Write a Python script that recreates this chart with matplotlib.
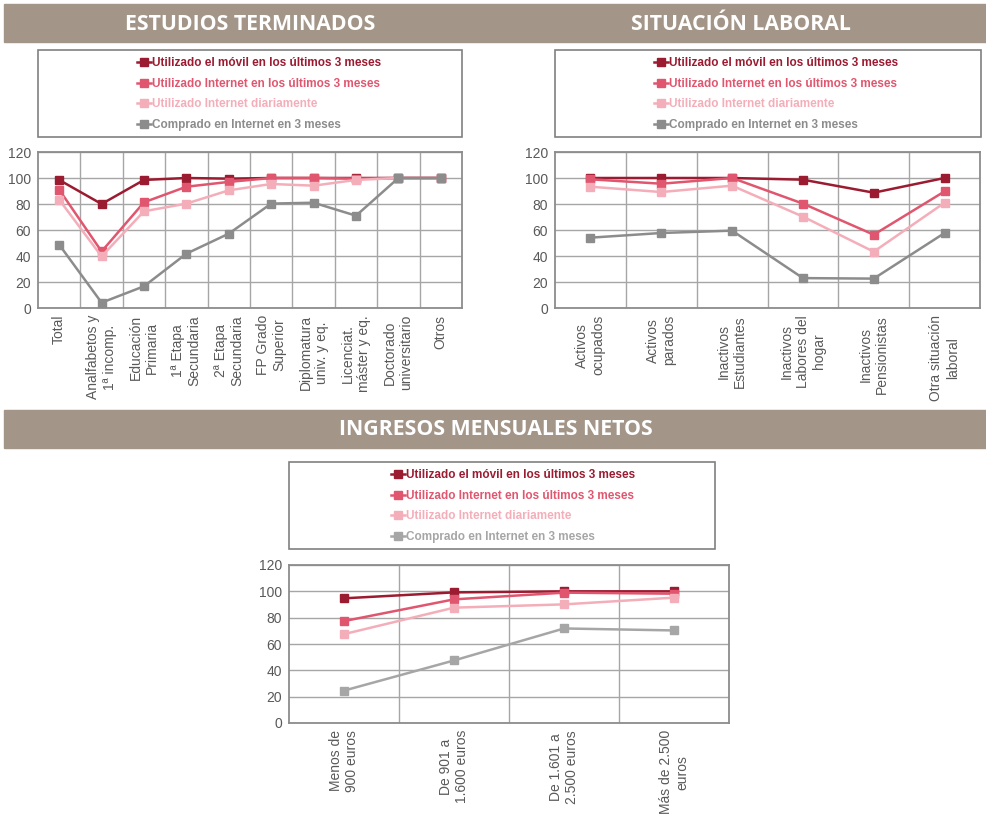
import numpy as np
import matplotlib
matplotlib.use('Agg')
from matplotlib import pyplot as plt
from matplotlib.patches import Rectangle

# datos
series_names = ['Utilizado el móvil en los últimos 3 meses',
                'Utilizado Internet en los últimos 3 meses',
                'Utilizado Internet diariamente',
                'Comprado en Internet en 3 meses']

estudios_cat = ['Total', 'Analfabetos y\n1ª incomp.', 'Educación\nPrimaria',
                '1ª Etapa\nSecundaria', '2ª Etapa\nSecundaria', 'FP Grado\nSuperior',
                'Diplomatura\nuniv. y eq.', 'Licenciat.\nmáster y eq.',
                'Doctorado\nuniversitario', 'Otros']
estudios_movil = [98.5, 80, 98.5, 100, 99.5, 100, 100, 100, 100, 100]
estudios_inet = [91, 43.5, 81.3, 93.3, 97, 100, 100, 99.5, 100, 100]
estudios_diario = [83.3, 39.7, 74.4, 80.3, 90.5, 95.4, 94.1, 98.5, 100, 100]
estudios_compra = [48.7, 4.1, 16.7, 41.8, 57.2, 80.3, 81, 71, 100, 100]

laboral_cat = ['Activos\nocupados', 'Activos\nparados', 'Inactivos\nEstudiantes',
               'Inactivos\nLabores del\nhogar', 'Inactivos\nPensionistas',
               'Otra situación\nlaboral']
laboral_movil = [100, 100, 100, 98.7, 88.7, 100]
laboral_inet = [99, 95.6, 100, 80.3, 56.4, 89.7]
laboral_diario = [93.3, 89.2, 94.1, 70.3, 43.3, 81]
laboral_compra = [54.1, 57.7, 59.5, 23, 22.6, 57.7]

ingresos_cat = ['Menos de\n900 euros', 'De 901 a\n1.600 euros',
                'De 1.601 a\n2.500 euros', 'Más de 2.500\neuros']
ingresos_movil = [94.7, 99.2, 100, 100]
ingresos_inet = [77.4, 93.9, 99, 98.2]
ingresos_diario = [67.5, 87.6, 90.1, 95.2]
ingresos_compra = [24.6, 47.5, 71.8, 70.3]

colores = ['#9B1B30', '#E0566F', '#F4AEB9', '#8C8C8C']
gris_claro = '#A6A6A6'
header_col = '#A39689'

W, H = 986, 815
fig = plt.figure(figsize=(W / 100, H / 100), dpi=100)


def fx(x):
    return x / W


def fy(y):
    return 1 - y / H


def header(y0, y1, texto, xc):
    fig.patches.append(Rectangle((fx(4), fy(y1)), fx(W - 4), (y1 - y0) / H,
                                 transform=fig.transFigure, color=header_col, zorder=0))
    fig.text(fx(xc), fy((y0 + y1) / 2 + 1), texto, color='white', fontsize=15.3,
             fontweight='bold', family='Open Sans', ha='center', va='center')


def caja_leyenda(ax, x0, y0, x1, y1, xl):
    fig.patches.append(Rectangle((fx(x0), fy(y1)), fx(x1 - x0), (y1 - y0) / H,
                                 transform=fig.transFigure, facecolor='white',
                                 edgecolor='#808080', lw=1.2, zorder=0))
    handles, labels = ax.get_legend_handles_labels()
    fig.legend(handles, labels, loc='upper left', bbox_to_anchor=(fx(xl), fy(y0 + 1)),
               frameon=False, labelcolor='linecolor', borderpad=0, handlelength=1.2,
               handletextpad=0.1, labelspacing=0.74,
               prop={'family': 'Liberation Sans', 'weight': 'bold', 'size': 8.5})


def grafico(rect, cats, valores, colores_lin):
    x0, y0, x1, y1 = rect
    ax = fig.add_axes([fx(x0), fy(y1), fx(x1 - x0), (y1 - y0) / H])
    n = len(cats)
    x = np.arange(n)
    for vals, nombre, c in zip(valores, series_names, colores_lin):
        ax.plot(x, vals, color=c, lw=1.8, marker='s', ms=5.5, label=nombre,
                clip_on=False, zorder=3)
    ax.set_xlim(-0.5, n - 0.5)
    ax.set_ylim(0, 120)
    ax.set_yticks(range(0, 121, 20))
    ax.set_xticks(x)
    ax.set_xticklabels(cats, rotation=90, ha='center', va='top', multialignment='center')
    ax.set_xticks(np.arange(0.5, n - 0.5, 1), minor=True)
    ax.grid(axis='y', which='major', color='#A6A6A6', lw=1)
    ax.grid(axis='x', which='minor', color='#A6A6A6', lw=1)
    ax.grid(axis='x', which='major', visible=False)
    ax.set_axisbelow(True)
    for s in ax.spines.values():
        s.set_color('#8C8C8C')
        s.set_linewidth(1.3)
    ax.tick_params(which='both', length=0, labelsize=10, labelcolor='#595959', pad=5)
    for lab in ax.get_xticklabels() + ax.get_yticklabels():
        lab.set_family('Liberation Sans')
    return ax


header(4, 42, 'ESTUDIOS TERMINADOS', 250)
fig.text(fx(741), fy(24), 'SITUACIÓN LABORAL', color='white', fontsize=15.3,
         fontweight='bold', family='Open Sans', ha='center', va='center')
header(410, 448, 'INGRESOS MENSUALES NETOS', 496)

ax1 = grafico((38, 152, 462, 308), estudios_cat,
              [estudios_movil, estudios_inet, estudios_diario, estudios_compra], colores)
caja_leyenda(ax1, 38, 50, 462, 137, 131)

ax2 = grafico((555, 152, 980, 308), laboral_cat,
              [laboral_movil, laboral_inet, laboral_diario, laboral_compra], colores)
caja_leyenda(ax2, 555, 50, 981, 137, 648)

ax3 = grafico((289, 565, 729, 723), ingresos_cat,
              [ingresos_movil, ingresos_inet, ingresos_diario, ingresos_compra],
              colores[:3] + [gris_claro])
caja_leyenda(ax3, 289, 462, 715, 549, 385)

fig.savefig('out.png', dpi=100)
